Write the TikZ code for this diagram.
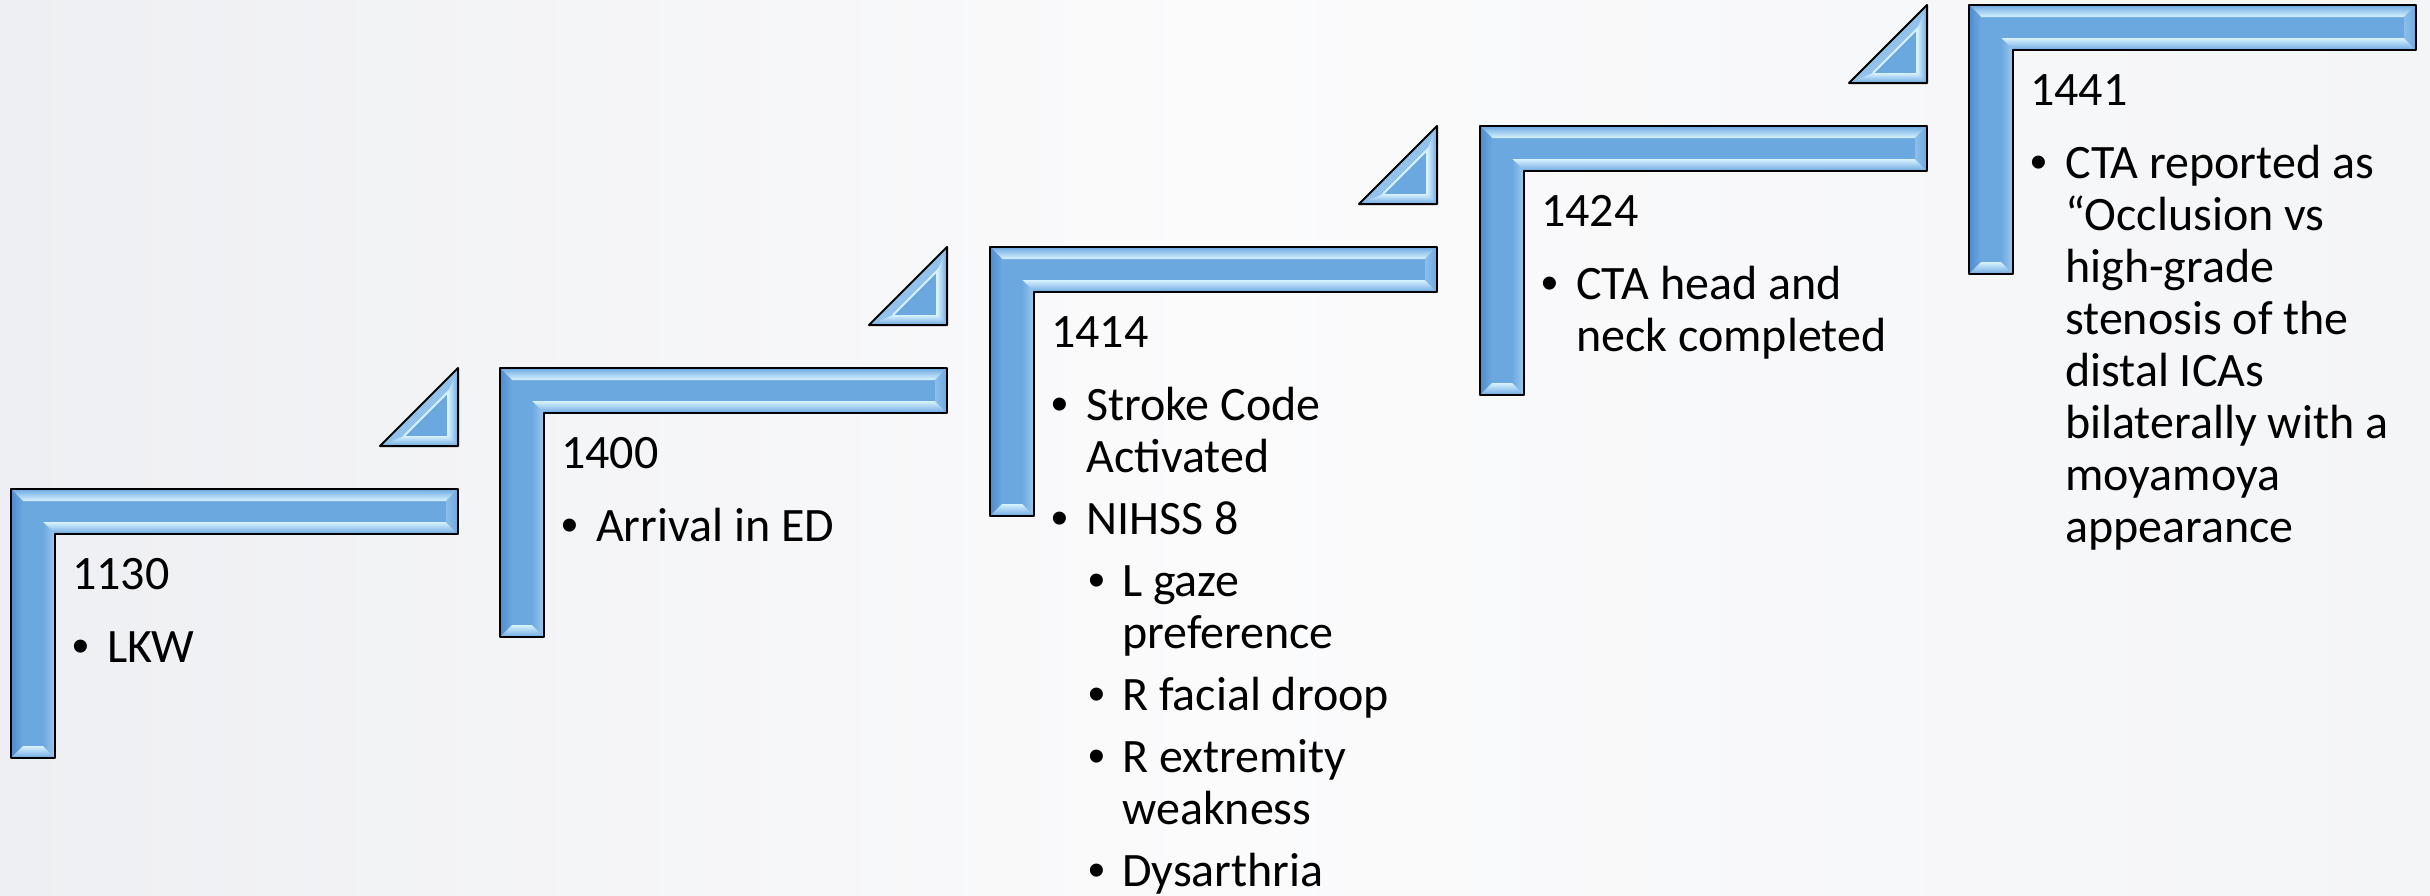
\documentclass[tikz,border=0pt]{standalone}
\usepackage{fontspec}
\setmainfont{Carlito}
\newfontfamily\bulletfont{Liberation Sans}
\definecolor{stepblue}{RGB}{108,168,224}
\definecolor{stepdark}{RGB}{80,140,206}
\definecolor{stephi}{RGB}{216,242,255}
\definecolor{bgA}{RGB}{238,239,242}
\definecolor{bgB}{RGB}{251,251,252}
\definecolor{bgC}{RGB}{244,245,247}
\newcommand{\tlbul}[1]{\hbox{\hbox to 35pt{\hskip 0pt{\bulletfont •}\hfil}#1}}
\newcommand{\tlcont}[1]{\hbox{\hskip 35pt #1}}
\newcommand{\tlsub}[1]{\hbox{\hskip 37pt\hbox to 34pt{\hskip 0pt{\bulletfont •}\hfil}#1}}
\newcommand{\tlsubcont}[1]{\hbox{\hskip 71pt #1}}
\newcommand{\tlpgap}{\vskip 10pt}
\newcommand{\tltgap}{\vskip 21pt}
% step shape: #1 = left x, #2 = top y
\newcommand{\tlstep}[2]{%
  \begin{scope}[shift={(#1,#2)}]
    \fill[stepblue] (0,0) -- (447,0) -- (447,45) -- (44,45) -- (44,269) -- (0,269) -- cycle;
    \shade[top color=stepblue, bottom color=stephi] (0,0) -- (447,0) -- (435,12) -- (12,12) -- cycle;
    \shade[top color=stephi, bottom color=stepblue] (32,33) -- (435,33) -- (447,45) -- (44,45) -- cycle;
    \shade[left color=stepblue!70!stephi, right color=stepblue] (435,12) -- (447,0) -- (447,45) -- (435,33) -- cycle;
    \shade[left color=stepdark, right color=stepblue] (0,0) -- (12,12) -- (12,257) -- (0,269) -- cycle;
    \shade[left color=stepblue, right color=stepblue!55!stephi] (32,33) -- (44,45) -- (44,269) -- (32,257) -- cycle;
    \shade[top color=stephi, bottom color=stepblue] (12,257) -- (32,257) -- (44,269) -- (0,269) -- cycle;
    \draw[outline] (0,0) -- (447,0) -- (447,45) -- (44,45) -- (44,269) -- (0,269) -- cycle;
  \end{scope}}
% triangle: #1 = right x, #2 = bottom y
\newcommand{\tltri}[2]{%
  \begin{scope}[shift={(#1,#2)}]
    \fill[stepblue] (-78,0) -- (0,0) -- (0,-78) -- cycle;
    \fill[stepblue!65!stephi] (-78,0) -- (0,-78) -- (-10,-54) -- (-54,-10) -- cycle;
    \shade[left color=stephi, right color=stepblue] (0,-78) -- (0,0) -- (-10,-10) -- (-10,-54) -- cycle;
    \shade[top color=stephi, bottom color=stepblue] (-78,0) -- (0,0) -- (-10,-10) -- (-54,-10) -- cycle;
    \draw[stephi, line width=2pt] (-54,-10) -- (-10,-54) -- (-10,-10);
    \draw[outline] (-78,0) -- (0,0) -- (0,-78) -- cycle;
  \end{scope}}
\begin{document}
\begin{tikzpicture}[x=1pt, y=-1pt,
  outline/.style={draw=black, line width=2pt, line join=round},
  txt/.style={inner sep=0pt, anchor=base west, text=black,
    font=\fontsize{48}{52}\selectfont}]
\useasboundingbox (0,0) rectangle (2430,895);
\shade[left color=bgA, right color=bgC, middle color=bgB] (0,0) rectangle (2430,895);

\tlstep{11}{489}
\tlstep{500}{368}
\tlstep{990}{247}
\tlstep{1480}{126}
\tlstep{1969}{5}

\tltri{458}{446}
\tltri{947}{325}
\tltri{1437}{204}
\tltri{1927}{83}

\node[txt] (t1) at (72,589) {\vtop{\hbox{1130}\tltgap\tlbul{LKW}}};
\node[txt] (t2) at (561,468) {\vtop{\hbox{1400}\tltgap\tlbul{Arrival in ED}}};
\node[txt] (t3) at (1051,347) {\vtop{\hbox{1414}\tltgap
  \tlbul{Stroke Code}\tlcont{Activated}\tlpgap
  \tlbul{NIHSS 8}\tlpgap
  \tlsub{L gaze}\tlsubcont{preference}\tlpgap
  \tlsub{R facial droop}\tlpgap
  \tlsub{R extremity}\tlsubcont{weakness}\tlpgap
  \tlsub{Dysarthria}}};
\node[txt] (t4) at (1541,226) {\vtop{\hbox{1424}\tltgap
  \tlbul{CTA head and}\tlcont{neck completed}}};
\node[txt] (t5) at (2030,105) {\vtop{\hbox{1441}\tltgap
  \tlbul{CTA reported as}\tlcont{“Occlusion vs}\tlcont{high-grade}
  \tlcont{stenosis of the}\tlcont{distal ICAs}\tlcont{bilaterally with a}
  \tlcont{moyamoya}\tlcont{appearance}}};
\end{tikzpicture}
\end{document}
